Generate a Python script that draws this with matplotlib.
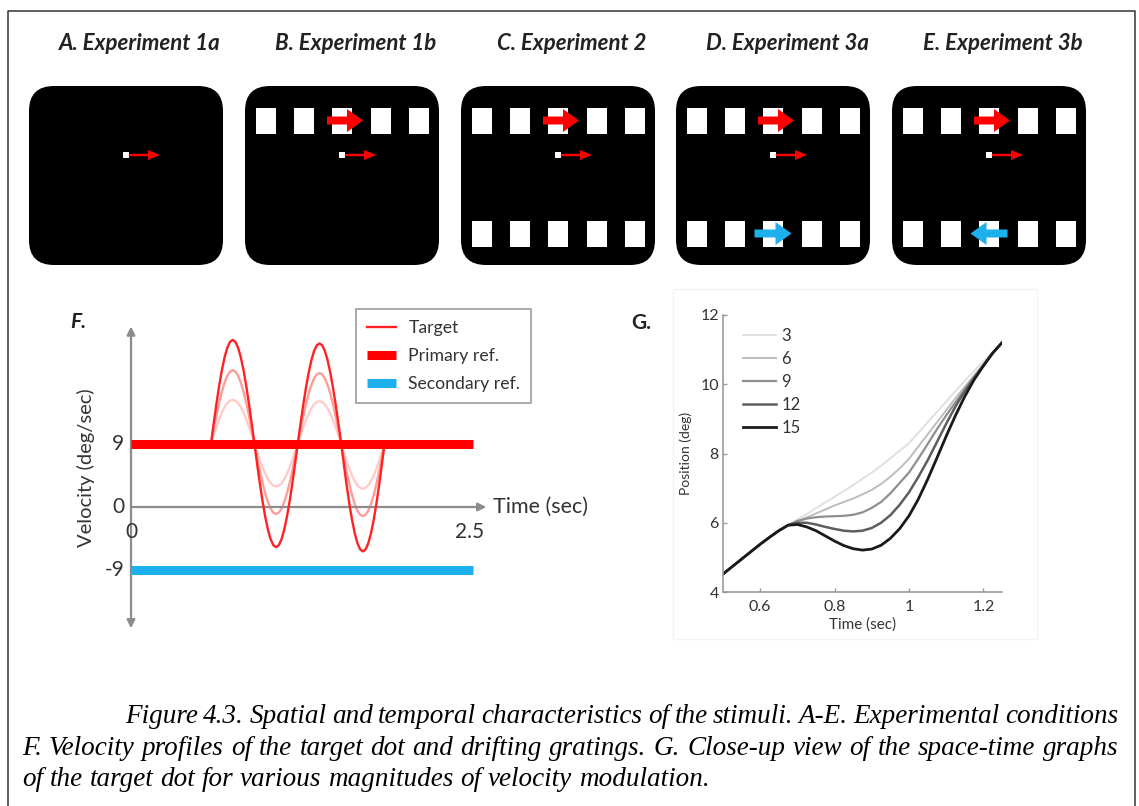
import matplotlib
matplotlib.use('Agg')
import matplotlib.pyplot as plt
from matplotlib.patches import FancyBboxPatch, Rectangle, FancyArrow
from matplotlib.lines import Line2D

plt.rcParams['font.family'] = ['Lato', 'DejaVu Sans']

#------------------------------------------------------------------------------
# Data
#------------------------------------------------------------------------------

# A-E: stimulus conditions
panel_titles = ['A. Experiment 1a', 'B. Experiment 1b', 'C. Experiment 2',
                'D. Experiment 3a', 'E. Experiment 3b']
top_grating = [False, True, True, True, True]
bottom_grating = [False, False, True, True, True]
top_drift = [0, 1, 1, 1, 1]        # +1 = rightwards, -1 = leftwards, 0 = none
bottom_drift = [0, 0, 0, 1, -1]

# F: velocity profiles (deg/sec), read every 0.02 sec
f_time = [0.59, 0.61, 0.63, 0.65, 0.67, 0.69, 0.71, 0.73, 0.75, 0.77, 0.79,
          0.81, 0.83, 0.85, 0.87, 0.89, 0.91, 0.93, 0.95, 0.97, 0.99, 1.01,
          1.03, 1.05, 1.07, 1.09, 1.11, 1.13, 1.15, 1.17, 1.19, 1.21, 1.23,
          1.25, 1.27, 1.29, 1.31, 1.33, 1.35, 1.37, 1.39, 1.41, 1.43, 1.45,
          1.47, 1.49, 1.51, 1.53, 1.55, 1.57, 1.59, 1.61, 1.63, 1.65, 1.67,
          1.69, 1.71, 1.73, 1.75, 1.77, 1.79, 1.81, 1.83, 1.85, 1.87]
target_large = [9, 11.87, 14.63, 17.17, 19.39, 21.22, 22.58, 23.42, 23.7,
                23.42, 22.58, 21.22, 19.39, 17.17, 14.63, 11.87,
                9, 6.13, 3.37, 0.83, -1.39, -3.22, -4.58, -5.42, -5.7,
                -5.42, -4.58, -3.22, -1.39, 0.83, 3.37, 6.13,
                9, 11.77, 14.44, 16.9, 19.04, 20.8, 22.12, 22.93, 23.2,
                22.93, 22.12, 20.8, 19.04, 16.9, 14.44, 11.77,
                9, 6.02, 3.14, 0.49, -1.82, -3.71, -5.14, -6.01, -6.3,
                -6.01, -5.14, -3.71, -1.82, 0.49, 3.14, 6.02, 9]
target_medium = [9, 11.03, 12.98, 14.78, 16.35, 17.64, 18.61, 19.2, 19.4,
                 19.2, 18.61, 17.64, 16.35, 14.78, 12.98, 11.03,
                 9, 7.05, 5.17, 3.44, 1.93, 0.69, -0.24, -0.81, -1.0,
                 -0.81, -0.24, 0.69, 1.93, 3.44, 5.17, 7.05,
                 9, 10.95, 12.83, 14.56, 16.07, 17.31, 18.24, 18.81, 19.0,
                 18.81, 18.24, 17.31, 16.07, 14.56, 12.83, 10.95,
                 9, 6.99, 5.06, 3.27, 1.72, 0.44, -0.52, -1.1, -1.3,
                 -1.1, -0.52, 0.44, 1.72, 3.27, 5.06, 6.99, 9]
target_small = [9, 10.21, 11.37, 12.45, 13.38, 14.15, 14.73, 15.08, 15.2,
                15.08, 14.73, 14.15, 13.38, 12.45, 11.37, 10.21,
                9, 7.81, 6.66, 5.61, 4.69, 3.93, 3.36, 3.02, 2.9,
                3.02, 3.36, 3.93, 4.69, 5.61, 6.66, 7.81,
                9, 10.17, 11.3, 12.34, 13.24, 13.99, 14.54, 14.89, 15.0,
                14.89, 14.54, 13.99, 13.24, 12.34, 11.3, 10.17,
                9, 7.75, 6.55, 5.44, 4.48, 3.68, 3.09, 2.72, 2.6,
                2.72, 3.09, 3.68, 4.48, 5.44, 6.55, 7.75, 9]
primary_ref = 9
secondary_ref = -9
ref_span = [0, 2.52]
f_yticks = [9, 0, -9]
f_xticks = [0, 2.5]
f_legend = ['Target', 'Primary ref.', 'Secondary ref.']

# G: position of the target dot (deg)
g_time = [0.5, 0.55, 0.6, 0.625, 0.65, 0.675, 0.7, 0.725, 0.75, 0.775, 0.8,
          0.825, 0.85, 0.875, 0.9, 0.925, 0.95, 0.975, 1.0, 1.025, 1.05,
          1.075, 1.1, 1.125, 1.15, 1.175, 1.2, 1.225, 1.25]
pos_mod3 = [4.52, 4.95, 5.38, 5.58, 5.77, 5.93, 6.1, 6.25, 6.42, 6.59, 6.75,
            6.92, 7.09, 7.27, 7.45, 7.65, 7.86, 8.08, 8.3, 8.6, 8.9, 9.2,
            9.5, 9.8, 10.1, 10.39, 10.66, 10.94, 11.2]
pos_mod6 = [4.52, 4.95, 5.38, 5.58, 5.77, 5.93, 6.05, 6.15, 6.27, 6.38, 6.5,
            6.6, 6.7, 6.82, 6.95, 7.12, 7.33, 7.57, 7.85, 8.2, 8.55, 8.9,
            9.25, 9.6, 9.93, 10.26, 10.58, 10.92, 11.2]
pos_mod9 = [4.52, 4.95, 5.38, 5.58, 5.77, 5.93, 6.05, 6.12, 6.16, 6.18, 6.19,
            6.2, 6.23, 6.3, 6.43, 6.6, 6.85, 7.15, 7.45, 7.85, 8.27, 8.7,
            9.1, 9.48, 9.85, 10.2, 10.55, 10.91, 11.2]
pos_mod12 = [4.52, 4.95, 5.38, 5.58, 5.77, 5.93, 6.0, 6.0, 5.95, 5.88, 5.82,
             5.77, 5.75, 5.77, 5.85, 6.0, 6.22, 6.52, 6.88, 7.32, 7.8, 8.33,
             8.86, 9.36, 9.8, 10.18, 10.54, 10.9, 11.2]
pos_mod15 = [4.52, 4.95, 5.38, 5.58, 5.77, 5.93, 5.95, 5.88, 5.77, 5.62, 5.47,
             5.34, 5.25, 5.21, 5.24, 5.35, 5.55, 5.83, 6.2, 6.68, 7.25, 7.87,
             8.5, 9.1, 9.65, 10.13, 10.53, 10.9, 11.2]
g_labels = ['3', '6', '9', '12', '15']
g_xticks = [0.6, 0.8, 1.0, 1.2]
g_xticklabels = ['0.6', '0.8', '1', '1.2']
g_yticks = [4, 6, 8, 10, 12]

caption_lines = [
    'Figure 4.3. Spatial and temporal characteristics of the stimuli. A-E. Experimental conditions',
    'F. Velocity profiles of the target dot and drifting gratings. G. Close-up view of the space-time graphs',
    'of the target dot for various magnitudes of velocity modulation.',
]

#------------------------------------------------------------------------------
# Figure
#------------------------------------------------------------------------------

W, H = 1139, 806
fig = plt.figure(figsize=(W / 100, H / 100), dpi=100)
fig.patch.set_facecolor('white')

RED = '#ff0000'
CYAN = '#1cb1ec'


def px_axes(x0, y0, x1, y1):
    # axes placed with pixel coordinates (origin top-left)
    return fig.add_axes([x0 / W, 1 - y1 / H, (x1 - x0) / W, (y1 - y0) / H])


# page frame
fig.add_artist(Line2D([7.5 / W, 7.5 / W, 1134.5 / W, 1134.5 / W],
                      [0, 1 - 10.5 / H, 1 - 10.5 / H, 0],
                      transform=fig.transFigure, color='#333333', lw=1.1))

# ---- A-E -------------------------------------------------------------------
box_left = [29, 245, 461, 676, 892]
box_top, bw, bh, rad = 86, 194, 179, 25
win_centers = [21, 59, 97, 135.5, 174]
win_w, win_h = 20, 26
row_top, row_bottom = 21.5, 134.5

for i, title in enumerate(panel_titles):
    ax = px_axes(box_left[i], box_top, box_left[i] + bw, box_top + bh)
    ax.set_xlim(0, bw)
    ax.set_ylim(bh, 0)
    ax.axis('off')
    ax.add_patch(FancyBboxPatch((rad, rad), bw - 2 * rad, bh - 2 * rad,
                                boxstyle='round,pad=%d,rounding_size=%d' % (rad, rad),
                                fc='black', ec='none', clip_on=False))
    if top_grating[i]:
        for c in win_centers:
            ax.add_patch(Rectangle((c - win_w / 2, row_top), win_w, win_h, fc='white', ec='none'))
    if bottom_grating[i]:
        for c in win_centers:
            ax.add_patch(Rectangle((c - win_w / 2, row_bottom), win_w, win_h, fc='white', ec='none'))
    # target dot and its motion
    ax.add_patch(Rectangle((93.5, 66), 6, 6, fc='white', ec='none'))
    ax.add_patch(FancyArrow(100, 69, 31, 0, width=2.4, head_width=10, head_length=12,
                            length_includes_head=True, fc=RED, ec='none'))
    if top_drift[i]:
        ax.add_patch(FancyArrow(82, row_top + win_h / 2, 36 * top_drift[i], 0, width=8,
                                head_width=23, head_length=16, length_includes_head=True,
                                fc=RED, ec='none'))
    if bottom_drift[i]:
        x0 = 78.5 if bottom_drift[i] > 0 else 115.5
        ax.add_patch(FancyArrow(x0, row_bottom + win_h / 2, 37 * bottom_drift[i], 0, width=8,
                                head_width=23, head_length=16, length_includes_head=True,
                                fc=CYAN, ec='none'))
    fig.text((box_left[i] + bw / 2 + 14) / W, 1 - 44 / H, title, ha='center', va='center',
             fontsize=16, fontweight='bold', fontstyle='italic', color='#222222')

# ---- F ---------------------------------------------------------------------
t0_px, px_s = 131, 135.6
v0_px, px_v = 507, 7.05
axF = px_axes(95, 295, 620, 650)
axF.set_xlim((95 - t0_px) / px_s, (620 - t0_px) / px_s)
axF.set_ylim((v0_px - 650) / px_v, (v0_px - 295) / px_v)
axF.axis('off')

grey = '#8c8c8c'
axF.annotate('', xy=(0, 25.6), xytext=(0, -17.2),
             arrowprops=dict(arrowstyle='<|-|>', color=grey, lw=1.6,
                             mutation_scale=12, shrinkA=0, shrinkB=0))
axF.annotate('', xy=(2.62, 0), xytext=(0, 0),
             arrowprops=dict(arrowstyle='-|>', color=grey, lw=1.6,
                             mutation_scale=12, shrinkA=0, shrinkB=0))

axF.plot(f_time, target_small, color='#ffcaca', lw=1.7, zorder=2)
axF.plot(f_time, target_medium, color='#ff9c9c', lw=1.7, zorder=2)
axF.plot(f_time, target_large, color='#ff2222', lw=1.7, zorder=3)
axF.plot(ref_span, [primary_ref, primary_ref], color=RED, lw=6.5,
         solid_capstyle='butt', zorder=4)
axF.plot(ref_span, [secondary_ref, secondary_ref], color=CYAN, lw=6.5,
         solid_capstyle='butt', zorder=4)

for v in f_yticks:
    axF.text(-0.05, v, '%d' % v, ha='right', va='center', fontsize=15, color='#333333')
for t in f_xticks:
    axF.text(t, -3.5, '%g' % t, ha='center', va='center', fontsize=15, color='#333333')
axF.text(2.67, 0, 'Time (sec)', ha='left', va='center', fontsize=15.5, color='#333333')
fig.text(86 / W, 1 - 468 / H, 'Velocity (deg/sec)', rotation=90, ha='center',
         va='center', fontsize=14.5, color='#333333')
fig.text(78 / W, 1 - 322 / H, 'F.', ha='center', va='center', fontsize=15,
         fontweight='bold', fontstyle='italic', color='#222222')

handles = [Line2D([], [], color='#ff2222', lw=1.7),
           Line2D([], [], color=RED, lw=6.5, solid_capstyle='butt'),
           Line2D([], [], color=CYAN, lw=6.5, solid_capstyle='butt')]
legF = axF.legend(handles, f_legend, loc='upper left', bbox_to_anchor=(356 / W, 1 - 309 / H),
                  bbox_transform=fig.transFigure, borderaxespad=0, fontsize=12.7,
                  fancybox=False, framealpha=1, edgecolor='#aaaaaa',
                  handlelength=1.65, handletextpad=0.7, labelspacing=0.68,
                  borderpad=0.62)
legF.get_frame().set_linewidth(1.4)
for txt in legF.get_texts():
    txt.set_color('#333333')

# ---- G ---------------------------------------------------------------------
fig.add_artist(Rectangle((673 / W, 1 - 639 / H), 364 / W, 350 / H, transform=fig.transFigure,
                         fc='none', ec='#f3f3f3', lw=1))
axG = px_axes(723, 315, 1002, 592)
g_series = [pos_mod3, pos_mod6, pos_mod9, pos_mod12, pos_mod15]
g_colors = ['#dedede', '#bdbdbd', '#8f8f8f', '#5e5e5e', '#1a1a1a']
g_widths = [1.3, 1.4, 1.6, 1.8, 2.0]
for ys, lab, c, lw in zip(g_series, g_labels, g_colors, g_widths):
    axG.plot(g_time, ys, color=c, lw=lw, label=lab)
axG.set_xlim(0.5, 1.25)
axG.set_ylim(4, 12)
axG.set_xticks(g_xticks)
axG.set_xticklabels(g_xticklabels)
axG.set_yticks(g_yticks)
for s in ['top', 'right']:
    axG.spines[s].set_visible(False)
for s in ['left', 'bottom']:
    axG.spines[s].set_color('#999999')
    axG.spines[s].set_linewidth(1.2)
axG.tick_params(direction='in', length=3, width=1, color='#999999',
                labelsize=11.5, labelcolor='#333333')
axG.tick_params(axis='x', pad=6)
axG.tick_params(axis='y', pad=3)
axG.set_xlabel('Time (sec)', fontsize=11, color='#333333', labelpad=2)
axG.set_ylabel('Position (deg)', fontsize=10, color='#333333', labelpad=6)
legG = axG.legend(loc='upper left', bbox_to_anchor=(743 / W, 1 - 328 / H),
                  bbox_transform=fig.transFigure, borderaxespad=0, frameon=False,
                  fontsize=12, handlelength=2.0, handletextpad=0.3, labelspacing=0.42,
                  borderpad=0)
for txt in legG.get_texts():
    txt.set_color('#333333')
fig.text(641 / W, 1 - 323 / H, 'G.', ha='center', va='center', fontsize=15,
         fontweight='bold', color='#222222')

# ---- caption (justified like the thesis page) ------------------------------
renderer = fig.canvas.get_renderer()
cap_fs = 19.5
cap_x0 = [125, 22, 22]
cap_x1 = 1118
cap_base = [723, 755, 786]
cap_justify = [True, True, False]

for line, x0, yb, just in zip(caption_lines, cap_x0, cap_base, cap_justify):
    words = line.split(' ')
    objs = [fig.text(0, 1 - yb / H, w, family='Liberation Serif', style='italic',
                     fontsize=cap_fs, va='baseline', ha='left', color='#000000')
            for w in words]
    widths = [o.get_window_extent(renderer).width for o in objs]
    if just:
        gap = (cap_x1 - x0 - sum(widths)) / (len(words) - 1)
    else:
        tmp = fig.text(0, 0, line, family='Liberation Serif', style='italic', fontsize=cap_fs)
        gap = (tmp.get_window_extent(renderer).width - sum(widths)) / (len(words) - 1)
        tmp.remove()
    x = x0
    for o, w in zip(objs, widths):
        o.set_x(x / W)
        x += w + gap

plt.savefig('out.png', dpi=100, facecolor='white')
plt.close()
